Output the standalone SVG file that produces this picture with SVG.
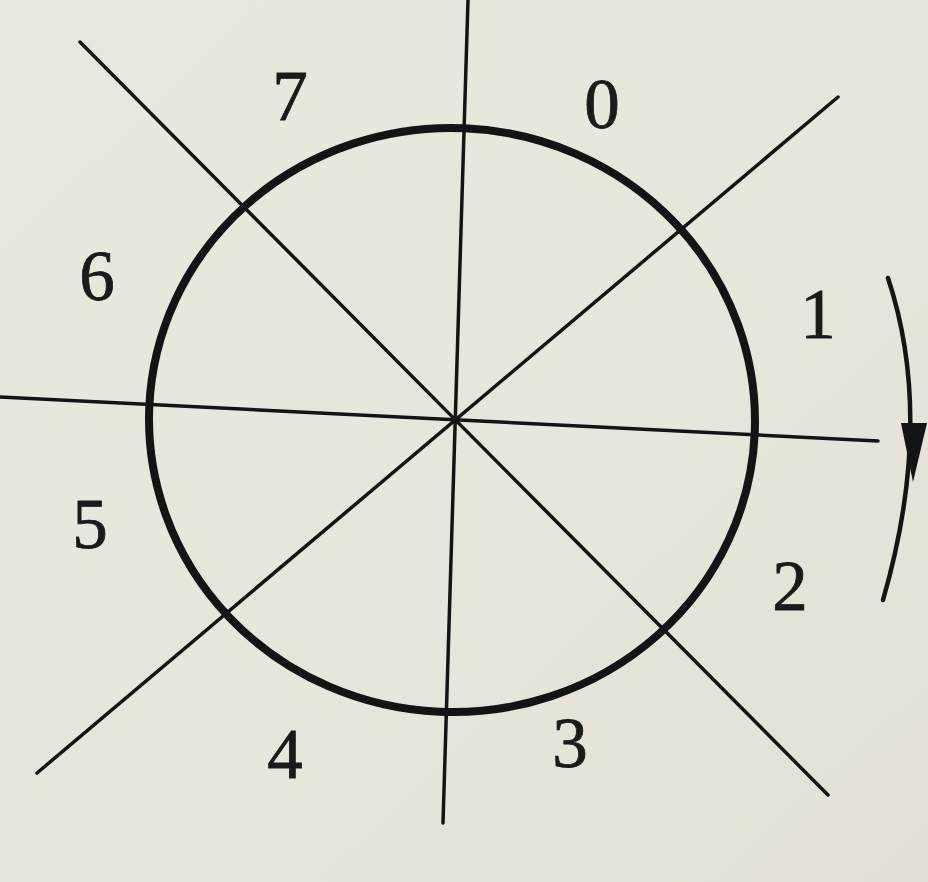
<svg xmlns="http://www.w3.org/2000/svg" width="928" height="882" viewBox="0 0 928 882">
<style>
.ln{stroke:#141414;stroke-width:3.5;fill:none;stroke-linecap:round}
.circ{stroke:#141414;stroke-width:8;fill:none}
.lbl{font-family:"Liberation Serif","Times New Roman",serif;font-size:71px;fill:#1a1a1a;stroke:#1a1a1a;stroke-width:0.8;text-anchor:middle}
.arr{stroke:#141414;stroke-width:4.5;fill:none;stroke-linecap:round}
</style>
<defs>
<linearGradient id="bg" x1="0" y1="0" x2="1" y2="1">
<stop offset="0" stop-color="#e9e8dc"/>
<stop offset="0.6" stop-color="#e7e6da"/>
<stop offset="1" stop-color="#e3dfd4"/>
</linearGradient>
</defs>
<rect width="928" height="882" fill="url(#bg)"/>
<g id="connectors">
<line class="ln" x1="0" y1="397" x2="878" y2="441"/>
<line class="ln" x1="468" y1="0" x2="443" y2="823"/>
<line class="ln" x1="80" y1="42" x2="828" y2="795"/>
<line class="ln" x1="838" y1="97" x2="37" y2="773"/>
</g>
<g id="circle">
<ellipse class="circ" cx="452" cy="420" rx="303" ry="292" transform="rotate(2.5 452 420)"/>
</g>
<g id="direction-arrow">
<path class="arr" d="M888,278 Q935,420 883,600"/>
<polygon points="901,423 927,423 913,482" fill="#141414"/>
</g>
<g id="label-0"><text class="lbl" x="602" y="128">0</text></g>
<g id="label-1"><text class="lbl" x="818" y="338">1</text></g>
<g id="label-2"><text class="lbl" x="790" y="610">2</text></g>
<g id="label-3"><text class="lbl" x="570" y="767">3</text></g>
<g id="label-4"><text class="lbl" x="285" y="778">4</text></g>
<g id="label-5"><text class="lbl" x="90" y="548">5</text></g>
<g id="label-6"><text class="lbl" x="97" y="300">6</text></g>
<g id="label-7"><text class="lbl" x="290" y="120">7</text></g>
</svg>
